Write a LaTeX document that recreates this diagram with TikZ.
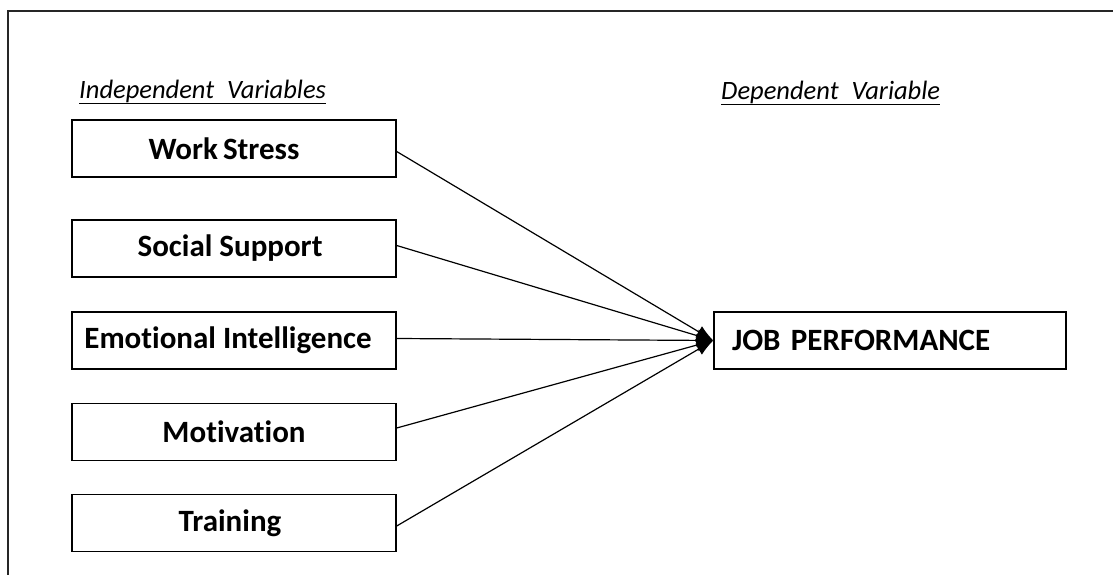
\documentclass[tikz,border=0pt]{standalone}
\usepackage{fontspec}
\setmainfont[Ligatures={NoCommon}]{Carlito}
\usetikzlibrary{arrows.meta}
\tikzset{
  varbox/.style={draw=black, line width=1.4pt, minimum width=324pt, minimum height=57pt, inner sep=0pt,
    font=\fontsize{31}{36}\selectfont\bfseries},
  hdr/.style={inner sep=0pt, anchor=base west, font=\fontsize{26.5}{30}\selectfont\itshape},
  link/.style={draw=black, line width=1.2pt, -{Latex[length=17pt,width=13pt]}},
}
\begin{document}
\begin{tikzpicture}[x=1pt,y=-1pt]
\useasboundingbox (0,0) rectangle (1113,575);
\draw[line width=2pt, color=black!85] (8,575) -- (8,11) -- (1113,11);

\node[hdr] (iv) at (79,99) {Independent\hspace{13pt}Variables};
\draw[line width=1.5pt] ([yshift=-4.5pt]iv.base west) -- ([yshift=-4.5pt]iv.base east);
\node[hdr] (dv) at (721,100) {Dependent\hspace{13pt}Variable};
\draw[line width=1.5pt] ([yshift=-4.5pt]dv.base west) -- ([yshift=-4.5pt]dv.base east);

\node[varbox] (ws) at (234,148.5) {\hspace*{-20pt}Work\hspace{-2pt} Stress};
\node[varbox] (ss) at (234,248.5) {\hspace*{-8pt}Social Support};
\node[varbox] (ei) at (234,340.5) {\hspace*{-12pt}Emotional Intelligence};
\node[varbox] (mo) at (234,432) {Motivation};
\node[varbox] (tr) at (234,523) {\hspace*{-8pt}Training};

\node[varbox, minimum width=352pt, text width=316pt, align=left] (jp) at (890,340.5) {JOB PERFORMANCE};

\draw[link] ([yshift=-3pt]ws.east) -- (jp.west);
\draw[link] ([yshift=3pt]ss.east) -- (jp.west);
\draw[link] ([yshift=2pt]ei.east) -- (jp.west);
\draw[link] ([yshift=4pt]mo.east) -- (jp.west);
\draw[link] ([yshift=-3pt]tr.east) -- (jp.west);
\end{tikzpicture}
\end{document}
